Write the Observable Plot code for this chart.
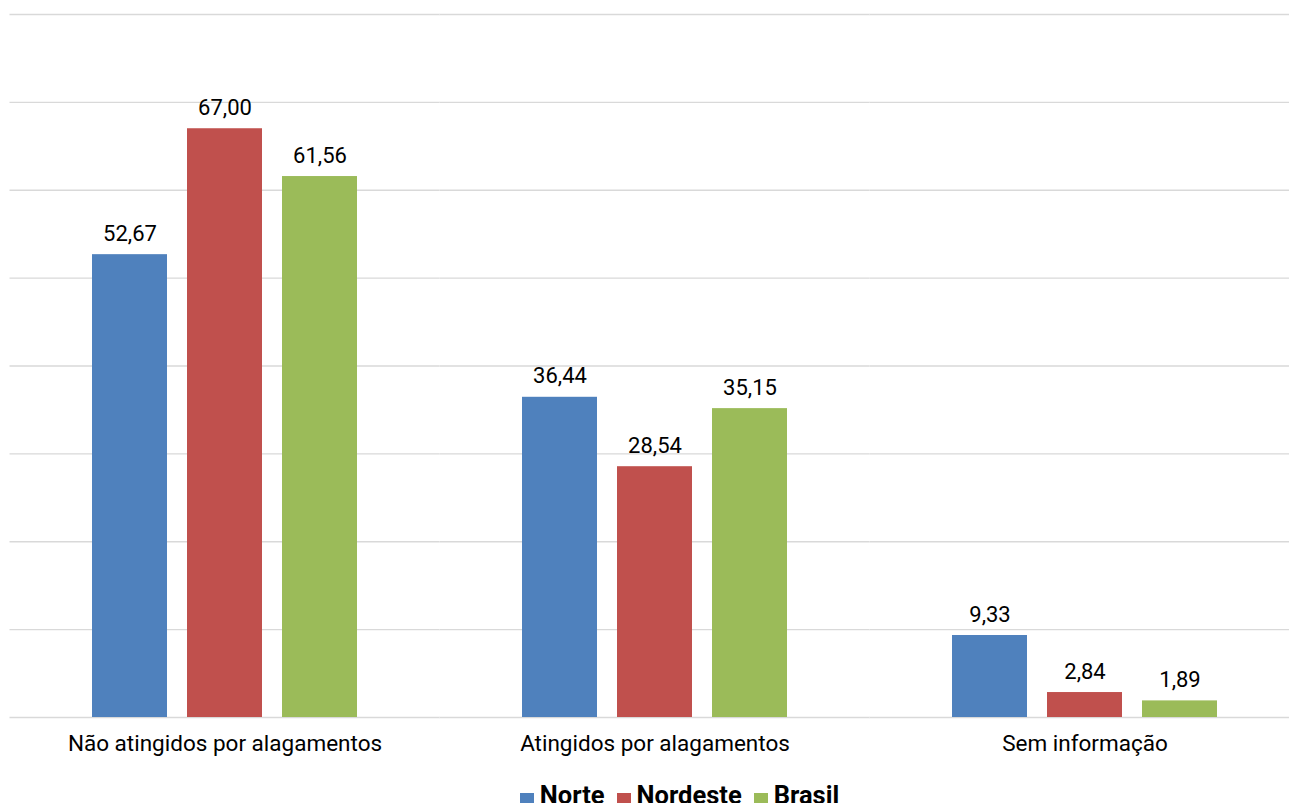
<!DOCTYPE html>
<html>
<head>
<meta charset="utf-8">
<script src="https://cdn.jsdelivr.net/npm/d3@7"></script>
<script src="https://cdn.jsdelivr.net/npm/@observablehq/plot@0.6"></script>
<style>
  body { margin: 0; background: #fff; font-family: Roboto, sans-serif; }
  #chart svg { display: block; }
  .legend { margin-top: 10px; width: 1289px; height: 30px; display: flex; justify-content: center;
            font: bold 25.5px/30px Roboto, sans-serif; color: #000; padding-left: 82px; box-sizing: border-box; }
  .legend span.item { display: inline-flex; align-items: flex-start; margin-right: 12px; }
  .legend span.sw { display: inline-block; width: 14px; height: 14px; margin-right: 6px; margin-top: 13px; }
</style>
</head>
<body>
<div id="chart"></div>
<div class="legend" id="legend"></div>
<script>
// Categories and series
const categories = ["Não atingidos por alagamentos", "Atingidos por alagamentos", "Sem informação"];
const series = ["Norte", "Nordeste", "Brasil"];
const colors = ["#4F81BD", "#C0504D", "#9BBB59"];

// Percent values per series, in category order
const norte = [52.67, 36.44, 9.33];
const nordeste = [67.00, 28.54, 2.84];
const brasil = [61.56, 35.15, 1.89];

const yTicks = [0, 10, 20, 30, 40, 50, 60, 70, 80];

const valuesBySeries = {Norte: norte, Nordeste: nordeste, Brasil: brasil};
const rows = [];
categories.forEach((c, i) => {
  series.forEach(s => rows.push({categoria: c, serie: s, valor: valuesBySeries[s][i]}));
});

const fmt = v => v.toFixed(2).replace(".", ",");

const chart = Plot.plot({
  width: 1289,
  height: 770,
  marginTop: 14,
  marginBottom: 53,
  marginLeft: 10,
  marginRight: 0,
  style: {fontFamily: "Roboto, sans-serif", fontSize: "22.5px", color: "#000", background: "#fff"},
  fx: {domain: categories, range: [9.5, 1299.5], paddingInner: 0, paddingOuter: 0, round: false,
       label: null, tickSize: 0, tickPadding: 18},
  x: {domain: series, range: [92.5, 357.5], paddingInner: 0.2105, paddingOuter: 0, round: false, axis: null},
  y: {domain: [0, 80], axis: null},
  color: {domain: series, range: colors},
  marks: [
    Plot.ruleY(yTicks, {stroke: "#d9d9d9", strokeWidth: 1.3}),
    Plot.barY(rows, {fx: "categoria", x: "serie", y: "valor", fill: "serie"}),
    Plot.text(rows, {fx: "categoria", x: "serie", y: "valor", text: d => fmt(d.valor),
      lineAnchor: "bottom", dy: -14, fontSize: 22, fill: "#000"})
  ]
});
document.getElementById("chart").appendChild(chart);

// Legend below the plot
const legend = document.getElementById("legend");
series.forEach((s, i) => {
  const item = document.createElement("span");
  item.className = "item";
  const sw = document.createElement("span");
  sw.className = "sw";
  sw.style.background = colors[i];
  item.appendChild(sw);
  item.appendChild(document.createTextNode(s));
  legend.appendChild(item);
});
</script>
</body>
</html>
